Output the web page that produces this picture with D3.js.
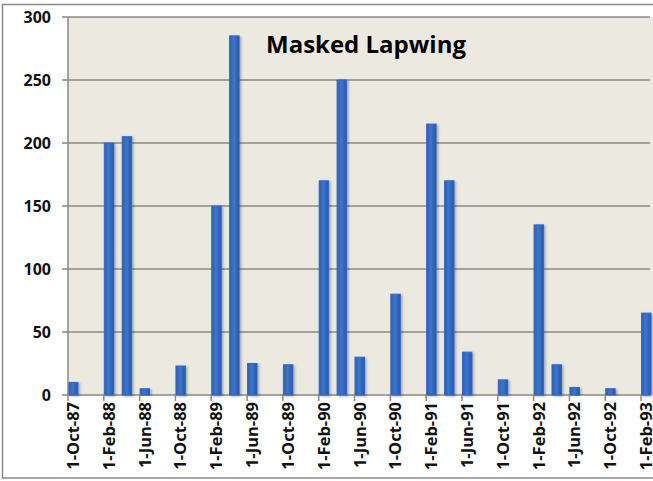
<!DOCTYPE html>
<html>
<head>
<meta charset="utf-8">
<script src="https://cdn.jsdelivr.net/npm/d3@7"></script>
<style>
  html, body { margin: 0; padding: 0; background: #fff; }
  svg { display: block; font-family: "Open Sans", sans-serif; }
</style>
</head>
<body>
<svg id="chart" width="653" height="481"></svg>
<script>
// survey dates and counts
const surveyDates = [
  "1987-10-01", "1988-02-01", "1988-04-01", "1988-06-01", "1988-10-01",
  "1989-02-01", "1989-04-01", "1989-06-01", "1989-10-01",
  "1990-02-01", "1990-04-01", "1990-06-01", "1990-10-01",
  "1991-02-01", "1991-04-01", "1991-06-01", "1991-10-01",
  "1992-02-01", "1992-04-01", "1992-06-01", "1992-10-01",
  "1993-02-01"
]
const counts = [
  10, 200, 205, 5, 23,
  150, 285, 25, 24,
  170, 250, 30, 80,
  215, 170, 34, 12,
  135, 24, 6, 5,
  65
]
const yTicks = [0, 50, 100, 150, 200, 250, 300]
const chartTitle = "Masked Lapwing"

const parse = d3.timeParse("%Y-%m-%d")
const fmt = d3.timeFormat("%-d-%b-%y")
const keyFmt = d3.timeFormat("%Y-%m")

const svg = d3.select("#chart")
const plot = { left: 68, right: 650, top: 17, bottom: 395 }

// outer chart border
svg.append("rect")
  .attr("x", 2.5).attr("y", 4.5)
  .attr("width", 680).attr("height", 473.5)
  .attr("fill", "#fff")
  .attr("stroke", "#8a8a8a")
  .attr("stroke-width", 1.5)

// month slots like Excel's date axis (base unit = months)
const months = d3.timeMonth.range(parse("1987-10-01"), parse("1993-03-01"))
const x = d3.scaleBand()
  .domain(months.map(keyFmt))
  .range([plot.left, plot.right])
  .padding(0)

const y = d3.scaleLinear().domain([0, 300]).range([plot.bottom, plot.top])

const defs = svg.append("defs")
const grad = defs.append("linearGradient").attr("id", "barGrad")
  .attr("x1", "0%").attr("x2", "100%").attr("y1", "0%").attr("y2", "0%")
grad.append("stop").attr("offset", "0%").attr("stop-color", "#2d5fb8")
grad.append("stop").attr("offset", "45%").attr("stop-color", "#3a76cf")
grad.append("stop").attr("offset", "100%").attr("stop-color", "#2a56a2")

const shadow = defs.append("filter").attr("id", "shadow")
  .attr("x", "-50%").attr("y", "-10%").attr("width", "200%").attr("height", "120%")
shadow.append("feDropShadow")
  .attr("dx", 1.5).attr("dy", 1).attr("stdDeviation", 1)
  .attr("flood-color", "#000").attr("flood-opacity", 0.3)

// plot area
svg.append("rect")
  .attr("x", plot.left).attr("y", plot.top)
  .attr("width", 653 - plot.left).attr("height", plot.bottom - plot.top)
  .attr("fill", "#eceae0")

// gridlines + y ticks
svg.append("g")
  .selectAll("line")
  .data(yTicks)
  .join("line")
  .attr("x1", plot.left - 6).attr("x2", plot.right)
  .attr("y1", d => y(d)).attr("y2", d => y(d))
  .attr("stroke", "#888")
  .attr("stroke-width", 1.5)

svg.append("g")
  .selectAll("text")
  .data(yTicks)
  .join("text")
  .attr("x", 51)
  .attr("y", d => y(d))
  .attr("dy", "0.36em")
  .attr("text-anchor", "end")
  .attr("font-size", 16)
  .attr("font-weight", "bold")
  .attr("fill", "#111")
  .text(d => d)

// bars
svg.append("g")
  .selectAll("rect")
  .data(surveyDates.map((d, i) => ({ date: parse(d), value: counts[i] })))
  .join("rect")
  .attr("x", d => x(keyFmt(d.date)) + 0.5)
  .attr("y", d => y(d.value))
  .attr("width", x.bandwidth() + 0.5)
  .attr("height", d => y(0) - y(d.value))
  .attr("fill", "url(#barGrad)")
  .attr("stroke", "#3366cc")
  .attr("stroke-width", 1)
  .attr("filter", "url(#shadow)")

// left axis line
svg.append("line")
  .attr("x1", plot.left).attr("x2", plot.left)
  .attr("y1", plot.top).attr("y2", plot.bottom)
  .attr("stroke", "#888").attr("stroke-width", 1.5)

// x ticks every 4 months
const xTicks = months.filter((m, i) => i % 4 === 0)
const xt = svg.append("g")
xt.selectAll("line")
  .data(xTicks)
  .join("line")
  .attr("x1", d => x(keyFmt(d))).attr("x2", d => x(keyFmt(d)))
  .attr("y1", plot.bottom).attr("y2", plot.bottom + 6)
  .attr("stroke", "#888").attr("stroke-width", 1.5)

xt.selectAll("text")
  .data(xTicks)
  .join("text")
  .attr("transform", d => `translate(${x(keyFmt(d)) + 11},${plot.bottom + 7}) rotate(-90)`)
  .attr("text-anchor", "end")
  .attr("font-size", 16.5)
  .attr("font-weight", "bold")
  .attr("fill", "#111")
  .text(d => fmt(d))

// title
svg.append("text")
  .attr("x", 366)
  .attr("y", 53)
  .attr("text-anchor", "middle")
  .attr("font-size", 24)
  .attr("font-weight", "bold")
  .attr("fill", "#000")
  .text(chartTitle)
</script>
</body>
</html>
